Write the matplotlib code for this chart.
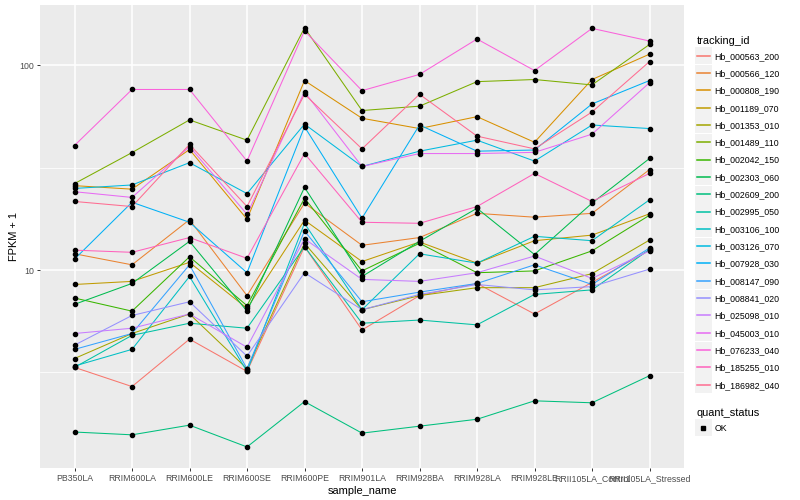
import matplotlib
matplotlib.use('Agg')
import matplotlib.pyplot as plt
from matplotlib.lines import Line2D
from matplotlib.patches import Rectangle
from matplotlib.legend_handler import HandlerLine2D
from matplotlib.ticker import FixedLocator, NullFormatter

plt.rcParams['font.family'] = ['Liberation Sans', 'DejaVu Sans']

samples = ['PB350LA', 'RRIM600LA', 'RRIM600LE', 'RRIM600SE', 'RRIM600PE', 'RRIM901LA',
           'RRIM928BA', 'RRIM928LA', 'RRIM928LE', 'RRII105LA_Control', 'RRII105LA_Stressed']

tracking_ids = ['Hb_000563_200', 'Hb_000566_120', 'Hb_000808_190', 'Hb_001189_070',
                'Hb_001353_010', 'Hb_001489_110', 'Hb_002042_150', 'Hb_002303_060',
                'Hb_002609_200', 'Hb_002995_050', 'Hb_003106_100', 'Hb_003126_070',
                'Hb_007928_030', 'Hb_008147_090', 'Hb_008841_020', 'Hb_025098_010',
                'Hb_045003_010', 'Hb_076233_040', 'Hb_185255_010', 'Hb_186982_040']

# FPKM + 1 per gene, one value per sample
hb_000563_200 = [3.35, 2.7, 4.6, 3.2, 13.0, 5.1, 7.5, 8.6, 6.1, 8.7, 12.5]
hb_000566_120 = [12.0, 10.6, 17.6, 7.5, 21.2, 13.2, 14.4, 18.9, 18.1, 18.9, 30.9]
hb_000808_190 = [25.8, 24.8, 38.7, 17.7, 84, 55, 49, 56, 42, 85, 113]
hb_001189_070 = [8.5, 8.8, 10.9, 6.5, 17.5, 11.0, 13.7, 10.8, 13.9, 14.8, 18.8]
hb_001353_010 = [3.7, 4.9, 6.1, 3.3, 13.5, 6.4, 7.5, 8.2, 8.2, 9.6, 14.0]
hb_001489_110 = [26.4, 37.4, 54, 43, 152, 60, 63, 83, 85, 80, 126]
hb_002042_150 = [7.3, 6.3, 11.6, 6.7, 22.4, 9.9, 13.5, 9.7, 9.9, 12.4, 18.5]
hb_002303_060 = [6.8, 8.6, 13.8, 6.3, 25.3, 9.3, 13.8, 20.0, 11.9, 21.2, 35]
hb_002609_200 = [1.62, 1.57, 1.75, 1.37, 2.28, 1.6, 1.73, 1.87, 2.3, 2.25, 3.05]
hb_002995_050 = [3.35, 4.8, 5.5, 5.2, 13.0, 5.5, 5.7, 5.4, 7.6, 8.0, 12.6]
hb_003106_100 = [3.4, 4.1, 9.3, 3.2, 16.9, 6.4, 12.0, 10.8, 14.6, 13.9, 22.0]
hb_003126_070 = [25.0, 26.0, 33.4, 23.6, 51.5, 32, 38, 43, 34, 51, 49]
hb_007928_030 = [11.3, 21.4, 17.1, 9.7, 50, 17.9, 51, 38, 38.5, 64.6, 84]
hb_008147_090 = [4.1, 4.9, 10.6, 3.3, 15.5, 7.0, 7.8, 8.6, 10.6, 8.5, 12.8]
hb_008841_020 = [4.3, 6.0, 7.0, 3.8, 9.7, 6.4, 7.6, 8.5, 8.0, 8.3, 10.1]
hb_025098_010 = [4.9, 5.2, 6.1, 4.2, 14.2, 9.0, 8.8, 9.7, 11.7, 9.1, 12.4]
hb_045003_010 = [24.1, 22.6, 40, 18.7, 74, 32, 37, 37, 37.5, 46, 82]
hb_076233_040 = [40.5, 76, 76, 34, 147, 75, 90, 134, 94, 151, 131]
hb_185255_010 = [12.5, 12.2, 14.4, 11.4, 37, 17.1, 16.9, 20.4, 29.6, 21.6, 29.6]
hb_186982_040 = [21.6, 20.4, 41, 20.4, 72, 39, 72, 45, 39, 59, 104]

series = [hb_000563_200, hb_000566_120, hb_000808_190, hb_001189_070, hb_001353_010,
          hb_001489_110, hb_002042_150, hb_002303_060, hb_002609_200, hb_002995_050,
          hb_003106_100, hb_003126_070, hb_007928_030, hb_008147_090, hb_008841_020,
          hb_025098_010, hb_045003_010, hb_076233_040, hb_185255_010, hb_186982_040]

# ggplot2 default hue palette, 20 levels
colors = ['#F8766D', '#EA8331', '#D89000', '#C09B00', '#A3A500', '#7CAE00', '#39B600',
          '#00BB4E', '#00BF7D', '#00C1A3', '#00BFC4', '#00BAE0', '#00B0F6', '#35A2FF',
          '#9590FF', '#C77CFF', '#E76BF3', '#FA62DB', '#FF62BC', '#FF6C91']

quant_status = ['OK']

px = 72 / 100.0  # points per pixel at dpi 100


class KeyHandler(HandlerLine2D):
    # ggplot-like legend key: grey square behind the glyph
    def create_artists(self, legend, orig_handle, xdescent, ydescent, width, height, fontsize, trans):
        artists = super().create_artists(legend, orig_handle, xdescent, ydescent,
                                          width, height, fontsize, trans)
        size = 17 * px
        cx = width / 2 - xdescent
        cy = (height - ydescent) / 2
        bg = Rectangle((cx - size / 2, cy - size / 2), size, size,
                       facecolor='#F2F2F2', edgecolor='none', transform=trans)
        return [bg] + artists


fig = plt.figure(figsize=(8, 5), dpi=100)
ax = fig.add_axes([0.05, 0.064, 0.805, 0.926])
ax.set_facecolor('#EBEBEB')

x = list(range(len(samples)))
for vals, col in zip(series, colors):
    ax.plot(x, vals, color=col, linewidth=0.75, zorder=2)
for vals in series:
    ax.plot(x, vals, linestyle='none', marker='o', markersize=3, color='black', zorder=3)

ax.set_yscale('log')
ax.set_xlim(-0.6, len(samples) - 1 + 0.6)
ax.set_ylim(10 ** 0.034, 10 ** 2.293)
ax.yaxis.set_major_locator(FixedLocator([10, 100]))
ax.yaxis.set_minor_locator(FixedLocator([10 ** 0.5, 10 ** 1.5]))
ax.yaxis.set_minor_formatter(NullFormatter())
ax.set_yticklabels(['10', '100'])
ax.set_xticks(x)
ax.set_xticklabels(samples)

ax.grid(which='major', color='white', linewidth=1.1)
ax.grid(which='minor', axis='y', color='white', linewidth=0.55)
ax.set_axisbelow(True)
for s in ax.spines.values():
    s.set_visible(False)
ax.tick_params(which='major', length=2.5, width=0.7, color='#333333',
               labelsize=6.3, labelcolor='#4D4D4D', pad=2)
ax.tick_params(which='minor', length=0)

ax.set_xlabel('sample_name', fontsize=7.9, labelpad=2)
ax.set_ylabel('FPKM + 1', fontsize=7.9, labelpad=0)

handles = [Line2D([], [], color=c, linewidth=1.1) for c in colors]
leg1 = fig.legend(handles, tracking_ids, title='tracking_id', loc='upper left',
                  bbox_to_anchor=(0.871, 0.927), frameon=False, fontsize=6.3,
                  title_fontsize=7.9, handlelength=1.5, handletextpad=0.55,
                  labelspacing=0.95, borderaxespad=0, borderpad=0,
                  handler_map={Line2D: KeyHandler()})
leg1._legend_box.align = 'left'
leg1._legend_box.sep = 3.8  # tighter gap under the title

h2 = [Line2D([], [], linestyle='none', marker='s', markersize=2.6, color='black')]
leg2 = fig.legend(h2, quant_status, title='quant_status', loc='upper left',
                  bbox_to_anchor=(0.871, 0.183), frameon=False, fontsize=6.3,
                  title_fontsize=7.9, handlelength=1.5, handletextpad=0.55,
                  labelspacing=0.95, borderaxespad=0, borderpad=0,
                  handler_map={Line2D: KeyHandler()})
leg2._legend_box.align = 'left'
leg2._legend_box.sep = 3.8

fig.savefig('out.png', dpi=100)
